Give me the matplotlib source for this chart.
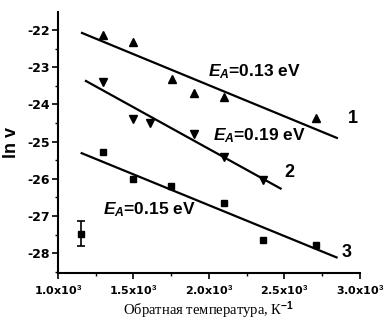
import matplotlib
matplotlib.use("Agg")
import matplotlib.pyplot as plt
from matplotlib.ticker import MultipleLocator, FuncFormatter

# Data (inverse temperature, ln v)
x1 = [1298, 1495, 1753, 1903, 2101, 2709]
y1 = [-22.13, -22.31, -23.33, -23.69, -23.81, -24.37]
x2 = [1298, 1495, 1609, 1903, 2101, 2360]
y2 = [-23.40, -24.40, -24.51, -24.80, -25.40, -26.03]
x3 = [1298, 1495, 1748, 2101, 2360, 2709]
y3 = [-25.28, -26.01, -26.19, -26.66, -27.63, -27.78]

# Fit lines (endpoints)
fit1_x = [1159, 2848]
fit1_y = [-22.08, -24.90]
fit2_x = [1185, 2475]
fit2_y = [-23.37, -26.26]
fit3_x = [1157, 2846]
fit3_y = [-25.31, -28.11]

# Error bar sample point
err_x = [1152]
err_y = [-27.47]
err_e = [0.34]

labels = ["0.13", "0.19", "0.15"]

plt.rcParams['mathtext.fontset'] = 'custom'
plt.rcParams['mathtext.it'] = 'Liberation Sans:italic:bold'
plt.rcParams['mathtext.rm'] = 'Liberation Sans:bold'
plt.rcParams['mathtext.bf'] = 'Liberation Sans:bold'

fig = plt.figure(figsize=(3.84, 3.27), dpi=100)
ax = fig.add_axes([0.151, 0.165, 0.786, 0.798])

ax.plot(fit1_x, fit1_y, color='black', lw=1.6)
ax.plot(fit2_x, fit2_y, color='black', lw=1.6)
ax.plot(fit3_x, fit3_y, color='black', lw=1.6)
ax.plot(x1, y1, '^', color='black', ms=5.5, ls='none')
ax.plot(x2, y2, 'v', color='black', ms=5.5, ls='none')
ax.plot(x3, y3, 's', color='black', ms=4.2, ls='none')
ax.errorbar(err_x, err_y, yerr=err_e, fmt='s', color='black', ms=4.5,
            capsize=3, elinewidth=1.2, capthick=1.2)

ax.set_xlim(1000, 3000)
ax.set_ylim(-28.53, -21.52)
for s in ['top', 'right']:
    ax.spines[s].set_visible(False)
for s in ['left', 'bottom']:
    ax.spines[s].set_linewidth(1.5)

ax.xaxis.set_major_locator(MultipleLocator(500))
ax.xaxis.set_minor_locator(MultipleLocator(250))
ax.yaxis.set_major_locator(MultipleLocator(1))
ax.yaxis.set_minor_locator(MultipleLocator(0.5))
ax.tick_params(which='major', direction='out', length=4, width=1.2)
ax.tick_params(which='minor', direction='out', length=2, width=1)

ax.xaxis.set_major_formatter(FuncFormatter(lambda v, p: r"%.1fx10$^3$" % (v / 1000)))
ax.yaxis.set_major_formatter(FuncFormatter(lambda v, p: "%d" % round(v)))
for lab in ax.get_xticklabels() + ax.get_yticklabels():
    lab.set_fontfamily('Liberation Sans Narrow')
    lab.set_fontweight('bold')
ax.tick_params(axis='y', labelsize=9, pad=2)
ax.tick_params(axis='x', labelsize=8, pad=3)

ax.set_xlabel("Обратная температура, К$^{-1}$", family='Liberation Serif',
              fontsize=10.5, labelpad=2)
ax.set_ylabel("ln v", fontsize=13, fontweight='bold', family='Liberation Sans', labelpad=5)

tkw = dict(fontsize=12.5, family='Liberation Sans', fontweight='bold', va='center', ha='left')
ax.text(1993, -23.13, r"$E_A$=0.13 eV", **tkw)
ax.text(2026, -24.84, r"$E_A$=0.19 eV", **tkw)
ax.text(1298, -26.84, r"$E_A$=0.15 eV", **tkw)
nkw = dict(fontsize=13, family='Liberation Sans', fontweight='bold', va='center', ha='center')
ax.text(2954, -24.37, "1", **nkw)
ax.text(2536, -25.84, "2", **nkw)
ax.text(2914, -27.97, "3", **nkw)

fig.savefig("out.png", dpi=100)
